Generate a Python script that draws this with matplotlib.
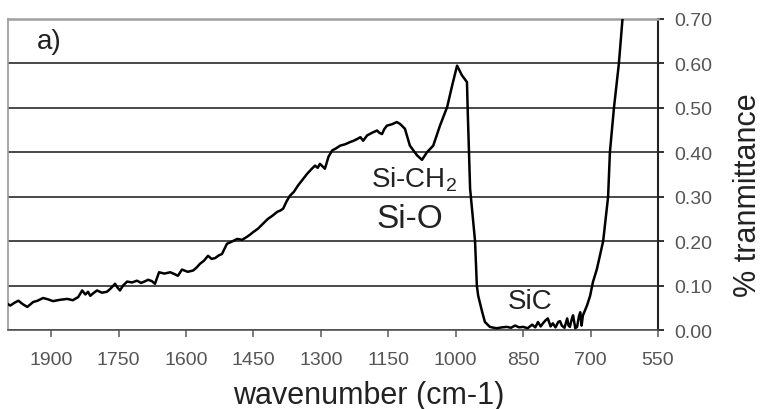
import matplotlib
matplotlib.use("Agg")
import matplotlib.pyplot as plt

plt.rcParams['font.family'] = ['Liberation Sans', 'DejaVu Sans']
plt.rcParams['mathtext.fontset'] = 'custom'
plt.rcParams['mathtext.rm'] = 'Liberation Sans'
plt.rcParams['mathtext.it'] = 'Liberation Sans'

# ---- data ----
wavenumber = [1996, 1991, 1982, 1973, 1963, 1953, 1940, 1930, 1918, 1907, 1896, 1880,
              1864, 1852, 1840, 1835, 1831, 1824, 1818, 1813, 1806, 1798, 1787, 1776,
              1768, 1758, 1752, 1747, 1740, 1731, 1720, 1709, 1700, 1695, 1684, 1676,
              1669, 1660, 1648, 1635, 1626, 1618, 1609, 1596, 1584, 1576, 1569, 1560,
              1551, 1543, 1535, 1527, 1520, 1509, 1498, 1486, 1475, 1464, 1457, 1451,
              1440, 1429, 1418, 1408, 1397, 1390, 1384, 1376, 1369, 1360, 1351, 1341,
              1331, 1322, 1313, 1307, 1302, 1296, 1291, 1283, 1275, 1266, 1257, 1246,
              1235, 1227, 1219, 1212, 1206, 1197, 1186, 1175, 1170, 1164, 1159, 1153,
              1142, 1131, 1124, 1113, 1102, 1086, 1075, 1064, 1050, 1035, 1019, 1008,
              997, 986, 975, 973, 968, 957, 953, 950, 941, 935, 924, 915,
              908, 897, 886, 877, 868, 859, 850, 840, 830, 823, 817, 811,
              806, 800, 795, 789, 784, 778, 772, 768, 764, 758, 752, 749,
              746, 742, 739, 734, 730, 726, 723, 720, 717, 712, 708, 701,
              695, 686, 672, 661, 657, 648, 637, 629, 624]
transmittance = [0.058, 0.055, 0.061, 0.066, 0.058, 0.052, 0.063, 0.066, 0.072, 0.069, 0.065, 0.068,
                 0.070, 0.067, 0.074, 0.082, 0.089, 0.080, 0.086, 0.077, 0.083, 0.089, 0.084, 0.086,
                 0.093, 0.104, 0.095, 0.089, 0.100, 0.109, 0.107, 0.111, 0.106, 0.108, 0.113, 0.110,
                 0.104, 0.130, 0.127, 0.130, 0.126, 0.122, 0.136, 0.131, 0.134, 0.141, 0.149, 0.156,
                 0.167, 0.160, 0.162, 0.168, 0.171, 0.194, 0.199, 0.205, 0.203, 0.210, 0.215, 0.220,
                 0.228, 0.239, 0.250, 0.257, 0.266, 0.269, 0.273, 0.290, 0.302, 0.311, 0.325, 0.338,
                 0.351, 0.361, 0.370, 0.365, 0.374, 0.368, 0.363, 0.390, 0.404, 0.409, 0.415, 0.418,
                 0.423, 0.426, 0.430, 0.434, 0.426, 0.438, 0.444, 0.449, 0.444, 0.441, 0.452, 0.460,
                 0.463, 0.468, 0.464, 0.453, 0.415, 0.393, 0.383, 0.400, 0.415, 0.460, 0.502, 0.550,
                 0.595, 0.573, 0.558, 0.483, 0.318, 0.200, 0.100, 0.077, 0.040, 0.018, 0.007, 0.005,
                 0.004, 0.006, 0.007, 0.005, 0.010, 0.006, 0.007, 0.004, 0.012, 0.006, 0.018, 0.008,
                 0.015, 0.022, 0.026, 0.008, 0.015, 0.006, 0.018, 0.020, 0.010, 0.005, 0.026, 0.010,
                 0.007, 0.024, 0.033, 0.004, 0.007, 0.030, 0.040, 0.010, 0.033, 0.045, 0.055, 0.077,
                 0.107, 0.137, 0.200, 0.300, 0.400, 0.500, 0.600, 0.700, 0.740]

x_ticks = [1900, 1750, 1600, 1450, 1300, 1150, 1000, 850, 700, 550]
y_ticks = [0.00, 0.10, 0.20, 0.30, 0.40, 0.50, 0.60, 0.70]
y_tick_labels = ["0.00", "0.10", "0.20", "0.30", "0.40", "0.50", "0.60", "0.70"]

annotations = [("a)", 1904, 0.651), ("Si-CH$_2$", 1093, 0.340), ("Si-O", 1102, 0.251), ("SiC", 835, 0.065)]
annotation_sizes = [20, 20, 24, 20]

# ---- figure ----
fig = plt.figure(figsize=(7.63, 4.10), dpi=100)
ax = fig.add_axes([8/763, 1-331/410, (658-8)/763, (331-20)/410])

ax.plot(wavenumber, transmittance, color='black', lw=1.8, solid_joinstyle='round', zorder=3)

ax.set_xlim(1996, 550)
ax.set_ylim(0, 0.70)
ax.set_xticks(x_ticks)
ax.set_xticklabels([str(v) for v in x_ticks])
ax.set_yticks(y_ticks)
ax.set_yticklabels(y_tick_labels)

ax.yaxis.tick_right()
ax.yaxis.set_label_position('right')
ax.grid(axis='y', color='#3a3a3a', lw=1.3)
ax.grid(axis='x', visible=False)
ax.set_axisbelow(True)

ax.spines['left'].set_color('#999999')
ax.spines['left'].set_linewidth(1.2)
ax.spines['top'].set_color('#a0a0a0')
ax.spines['top'].set_linewidth(1.8)
ax.spines['bottom'].set_color('#555555')
ax.spines['bottom'].set_linewidth(1.2)
ax.spines['right'].set_color('#222222')
ax.spines['right'].set_linewidth(1.5)

ax.tick_params(axis='x', direction='out', length=5, width=1.2, color='#666666',
               labelsize=14, labelcolor='#555555', pad=10)
ax.tick_params(axis='y', direction='out', length=4, width=1.3, color='#222222',
               labelsize=14, labelcolor='#555555', pad=8)

ax.set_xlabel('wavenumber (cm-1)', fontsize=22, color='#222222')
ax.set_ylabel('% tranmittance', fontsize=22, color='#222222')
ax.xaxis.set_label_coords(0.555, -0.16)
ax.yaxis.set_label_coords(1.115, 0.437)

for (txt, xv, yv), fs in zip(annotations, annotation_sizes):
    ax.text(xv, yv, txt, fontsize=fs, color='#222222', ha='center', va='center', zorder=4)

fig.savefig('out.png', dpi=100)
